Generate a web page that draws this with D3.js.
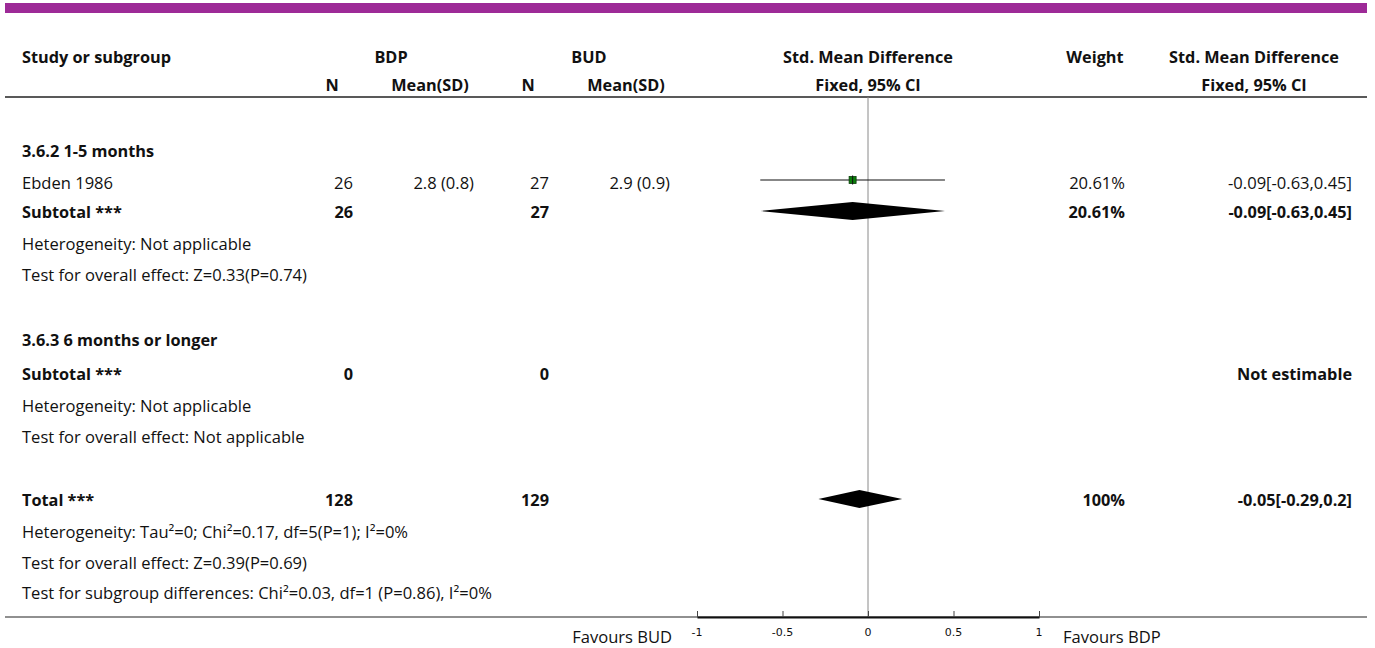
<!DOCTYPE html>
<html>
<head>
<meta charset="utf-8">
<script src="https://cdn.jsdelivr.net/npm/d3@7/dist/d3.min.js"></script>
<style>
  html, body { margin: 0; padding: 0; background: #fff; }
  svg text { font-family: "Open Sans", "Noto Sans", sans-serif; fill: #111; }
</style>
</head>
<body>
<svg id="chart" width="1375" height="648"></svg>
<script>
// ---- Data -------------------------------------------------------------
const groupLabels = ["BDP", "BUD"];

const studyNames   = ["Ebden 1986"];
const studyN1      = [26];
const studyMean1   = [2.8];
const studySD1     = [0.8];
const studyN2      = [27];
const studyMean2   = [2.9];
const studySD2     = [0.9];
const studySMD     = [-0.09];
const studyLow     = [-0.63];
const studyHigh    = [0.45];
const studyWeight  = [20.61];

const subgroupNames  = ["3.6.2 1-5 months", "3.6.3 6 months or longer"];
const subgroupN1     = [26, 0];
const subgroupN2     = [27, 0];
const subgroupSMD    = [-0.09, null];
const subgroupLow    = [-0.63, null];
const subgroupHigh   = [0.45, null];
const subgroupWeight = [20.61, null];
const subgroupHet    = ["Heterogeneity: Not applicable", "Heterogeneity: Not applicable"];
const subgroupTest   = ["Test for overall effect: Z=0.33(P=0.74)", "Test for overall effect: Not applicable"];

const totalN1     = 128;
const totalN2     = 129;
const totalSMD    = -0.05;
const totalLow    = -0.29;
const totalHigh   = 0.2;
const totalWeight = 100;
const totalHet    = "Heterogeneity: Tau\u00B2=0; Chi\u00B2=0.17, df=5(P=1); I\u00B2=0%";
const totalTest   = "Test for overall effect: Z=0.39(P=0.69)";
const subgroupDiff = "Test for subgroup differences: Chi\u00B2=0.03, df=1 (P=0.86), I\u00B2=0%";

const tickValues  = [-1, -0.5, 0, 0.5, 1];
const favoursLeft  = "Favours BUD";
const favoursRight = "Favours BDP";

// ---- Layout -----------------------------------------------------------
const svg = d3.select("#chart");
const purple = "#9d2a97";

// pick font sizes so that a sample line has the intended width
function fitSize(sample, weight, targetWidth) {
  const t = svg.append("text").attr("font-size", 20).attr("font-weight", weight).text(sample);
  const w = t.node().getComputedTextLength();
  t.remove();
  return 20 * targetWidth / w;
}
const FS = fitSize(subgroupTest[0], 400, 285);
const FSB = fitSize("Std. Mean Difference", 700, 170);

const col = {
  label: 22,
  n1: 353, mean1: 474, n2: 549, mean2: 670,
  weight: 1125, ci: 1352
};
const x = d3.scaleLinear().domain([-1, 1]).range([697, 1039]);

// vertical centres of the table rows
const rowY = {
  h1: 57, h2: 85, line: 97,
  g1: 151, s1: 182, sub1: 212, het1: 243, test1: 274,
  g2: 340, sub2: 374, het2: 405, test2: 436,
  tot: 500, hetT: 531, testT: 562, diff: 592,
  axis: 617
};

const fmt = v => (Math.round(v * 100) / 100).toString();
const ciText = (m, l, h) => `${fmt(m)}[${fmt(l)},${fmt(h)}]`;

function txt(xp, yp, s, opts = {}) {
  return svg.append("text")
    .attr("x", xp).attr("y", yp)
    .attr("dominant-baseline", "central")
    .attr("text-anchor", opts.anchor || "start")
    .attr("font-size", opts.bold ? FSB : FS)
    .attr("font-weight", opts.bold ? 700 : 400)
    .text(s);
}

// top band
svg.append("rect").attr("x", 5).attr("y", 3).attr("width", 1362).attr("height", 10).attr("fill", purple);

// header
txt(col.label, rowY.h1, "Study or subgroup", { bold: true });
txt(391, rowY.h1, groupLabels[0], { bold: true, anchor: "middle" });
txt(589, rowY.h1, groupLabels[1], { bold: true, anchor: "middle" });
txt(x(0), rowY.h1, "Std. Mean Difference", { bold: true, anchor: "middle" });
txt(1095, rowY.h1, "Weight", { bold: true, anchor: "middle" });
txt(1254, rowY.h1, "Std. Mean Difference", { bold: true, anchor: "middle" });

txt(332, rowY.h2, "N", { bold: true, anchor: "middle" });
txt(430, rowY.h2, "Mean(SD)", { bold: true, anchor: "middle" });
txt(528, rowY.h2, "N", { bold: true, anchor: "middle" });
txt(626, rowY.h2, "Mean(SD)", { bold: true, anchor: "middle" });
txt(x(0), rowY.h2, "Fixed, 95% CI", { bold: true, anchor: "middle" });
txt(1254, rowY.h2, "Fixed, 95% CI", { bold: true, anchor: "middle" });

// header rule
svg.append("line").attr("x1", 5).attr("x2", 1367).attr("y1", rowY.line).attr("y2", rowY.line)
  .attr("stroke", "#222").attr("stroke-width", 1.6);

// line of no effect
svg.append("line").attr("x1", x(0)).attr("x2", x(0)).attr("y1", rowY.line).attr("y2", rowY.axis)
  .attr("stroke", "#8a8a8a").attr("stroke-width", 1);

// ---- subgroup 1 ----
txt(col.label, rowY.g1, subgroupNames[0], { bold: true });
studyNames.forEach((name, i) => {
  const y = rowY.s1;
  txt(col.label, y, name);
  txt(col.n1, y, studyN1[i], { anchor: "end" });
  txt(col.mean1, y, `${studyMean1[i]} (${studySD1[i]})`, { anchor: "end" });
  txt(col.n2, y, studyN2[i], { anchor: "end" });
  txt(col.mean2, y, `${studyMean2[i]} (${studySD2[i]})`, { anchor: "end" });
  txt(col.weight, y, `${studyWeight[i]}%`, { anchor: "end" });
  txt(col.ci, y, ciText(studySMD[i], studyLow[i], studyHigh[i]), { anchor: "end" });

  svg.append("line").attr("x1", x(studyLow[i])).attr("x2", x(studyHigh[i]))
    .attr("y1", y - 2).attr("y2", y - 2).attr("stroke", "#111").attr("stroke-width", 1.2);
  const s = 7;
  svg.append("rect").attr("x", x(studySMD[i]) - s / 2).attr("y", y - 2 - s / 2)
    .attr("width", s).attr("height", s).attr("fill", "#0a7d0a").attr("stroke", "#0b3d0b").attr("stroke-width", 0.8);
  svg.append("line").attr("x1", x(studySMD[i])).attr("x2", x(studySMD[i]))
    .attr("y1", y - 2 - s / 2 - 1).attr("y2", y - 2 + s / 2 + 1).attr("stroke", "#111").attr("stroke-width", 1);
});

function diamond(m, l, h, y, half) {
  svg.append("path")
    .attr("d", `M${x(l)},${y} L${x(m)},${y - half} L${x(h)},${y} L${x(m)},${y + half} Z`)
    .attr("fill", "#000");
}

const subRows = [
  { g: rowY.g1, sub: rowY.sub1, het: rowY.het1, test: rowY.test1 },
  { g: rowY.g2, sub: rowY.sub2, het: rowY.het2, test: rowY.test2 }
];
subRows.forEach((r, i) => {
  if (i === 1) txt(col.label, r.g, subgroupNames[i], { bold: true });
  txt(col.label, r.sub, "Subtotal ***", { bold: true });
  txt(col.n1, r.sub, subgroupN1[i], { bold: true, anchor: "end" });
  txt(col.n2, r.sub, subgroupN2[i], { bold: true, anchor: "end" });
  if (subgroupSMD[i] !== null) {
    txt(col.weight, r.sub, `${subgroupWeight[i]}%`, { bold: true, anchor: "end" });
    txt(col.ci, r.sub, ciText(subgroupSMD[i], subgroupLow[i], subgroupHigh[i]), { bold: true, anchor: "end" });
    diamond(subgroupSMD[i], subgroupLow[i], subgroupHigh[i], r.sub - 1, 9);
  } else {
    txt(col.ci, r.sub, "Not estimable", { bold: true, anchor: "end" });
  }
  txt(col.label, r.het, subgroupHet[i]);
  txt(col.label, r.test, subgroupTest[i]);
});

// ---- overall ----
txt(col.label, rowY.tot, "Total ***", { bold: true });
txt(col.n1, rowY.tot, totalN1, { bold: true, anchor: "end" });
txt(col.n2, rowY.tot, totalN2, { bold: true, anchor: "end" });
txt(col.weight, rowY.tot, `${totalWeight}%`, { bold: true, anchor: "end" });
txt(col.ci, rowY.tot, ciText(totalSMD, totalLow, totalHigh), { bold: true, anchor: "end" });
diamond(totalSMD, totalLow, totalHigh, rowY.tot - 1, 9);
txt(col.label, rowY.hetT, totalHet);
txt(col.label, rowY.testT, totalTest);
txt(col.label, rowY.diff, subgroupDiff);

// ---- bottom rule and axis ----
svg.append("line").attr("x1", 5).attr("x2", 1367).attr("y1", rowY.axis).attr("y2", rowY.axis)
  .attr("stroke", "#222").attr("stroke-width", 1.2);

const axis = d3.axisTop(x).tickValues(tickValues).tickSizeInner(6).tickSizeOuter(0).tickFormat(() => "");
const ag = svg.append("g").attr("transform", `translate(0,${rowY.axis})`).call(axis);
ag.select(".domain").attr("stroke", "#111").attr("stroke-width", 2);
ag.selectAll(".tick line").attr("stroke", "#444").attr("stroke-width", 1);

tickValues.forEach(t => {
  svg.append("text").attr("x", x(t)).attr("y", rowY.axis + 15)
    .attr("text-anchor", "middle").attr("dominant-baseline", "central")
    .attr("font-size", 11).style("font-family", "'DejaVu Sans', sans-serif")
    .text(String(t));
});

txt(672, rowY.axis + 19, favoursLeft, { anchor: "end" });
txt(1063, rowY.axis + 19, favoursRight);
</script>
</body>
</html>
